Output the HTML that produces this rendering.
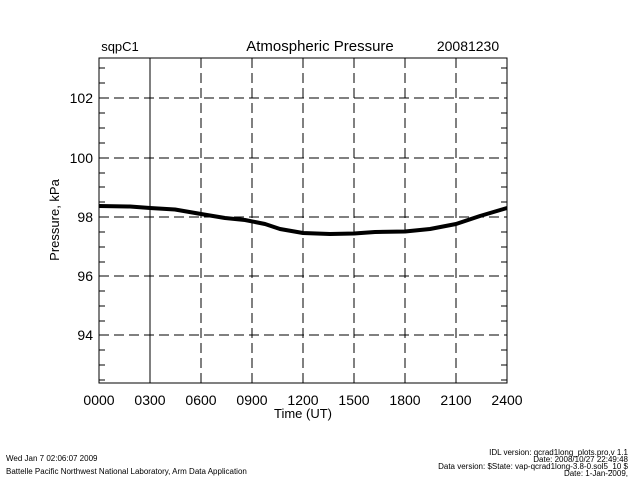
<!DOCTYPE html>
<html><head><style>
html,body{margin:0;padding:0;background:#fff;}
svg text{font-family:"Liberation Sans",sans-serif;fill:#000;}
</style></head><body>
<svg width="640" height="480" xmlns="http://www.w3.org/2000/svg">
<g stroke="#000" stroke-width="1" fill="none" shape-rendering="crispEdges">
<rect x="99" y="58" width="408" height="325"/>
<line x1="150" y1="58" x2="150" y2="383"/>
<g stroke-dasharray="10,5">
<line x1="201" y1="58" x2="201" y2="383"/>
<line x1="252" y1="58" x2="252" y2="383"/>
<line x1="303" y1="58" x2="303" y2="383"/>
<line x1="354" y1="58" x2="354" y2="383"/>
<line x1="405" y1="58" x2="405" y2="383"/>
<line x1="456" y1="58" x2="456" y2="383"/>
<line x1="99" y1="98" x2="507" y2="98"/>
<line x1="99" y1="158" x2="507" y2="158"/>
<line x1="99" y1="217" x2="507" y2="217"/>
<line x1="99" y1="276" x2="507" y2="276"/>
<line x1="99" y1="335" x2="507" y2="335"/>
</g>
<path d="M99 68h6M99 83h6M99 113h6M99 128h6M99 143h6M99 173h6M99 187h6M99 202h6M99 232h6M99 247h6M99 262h6M99 291h6M99 306h6M99 321h6M99 350h6M99 365h6M99 380h6
M507 68h-6M507 83h-6M507 113h-6M507 128h-6M507 143h-6M507 173h-6M507 187h-6M507 202h-6M507 232h-6M507 247h-6M507 262h-6M507 291h-6M507 306h-6M507 321h-6M507 350h-6M507 365h-6M507 380h-6"/>
</g>
<path d="M99 206 L130 206.5 L150 208 L175 209.5 L201 214 L225 218 L245 220 L265 224 L280 229 L303 233 L330 234 L354 233.5 L375 232 L405 231.5 L430 229 L456 224 L480 216 L507 208" fill="none" stroke="#000" stroke-width="4" stroke-linejoin="round"/>
<g font-size="14" text-anchor="middle">
<text x="320" y="51" font-size="15">Atmospheric Pressure</text>
<text x="120" y="51" font-size="13">sqpC1</text>
<text x="468" y="51" font-size="14">20081230</text>
<text x="99" y="405">0000</text><text x="150" y="405">0300</text><text x="201" y="405">0600</text>
<text x="252" y="405">0900</text><text x="303" y="405">1200</text><text x="354" y="405">1500</text>
<text x="405" y="405">1800</text><text x="456" y="405">2100</text><text x="507" y="405">2400</text>
<text x="303" y="418" font-size="13">Time (UT)</text>
</g>
<g font-size="14" text-anchor="end">
<text x="93" y="103">102</text><text x="93" y="163">100</text><text x="93" y="222">98</text>
<text x="93" y="281">96</text><text x="93" y="340">94</text>
</g>
<text transform="translate(59,220) rotate(-90)" font-size="13" text-anchor="middle">Pressure, kPa</text>
<g font-size="8">
<text x="6" y="461">Wed Jan  7 02:06:07 2009</text>
<text x="6" y="474">Battelle Pacific Northwest National Laboratory, Arm Data Application</text>
<g text-anchor="end">
<text x="628" y="455">IDL version: qcrad1long_plots.pro,v 1.1</text>
<text x="628" y="462">Date: 2008/10/27 22:49:48</text>
<text x="628" y="469">Data version: $State: vap-qcrad1long-3.8-0.sol5_10 $</text>
<text x="628" y="476">Date: 1-Jan-2009,</text>
</g></g>
</svg>
</body></html>
